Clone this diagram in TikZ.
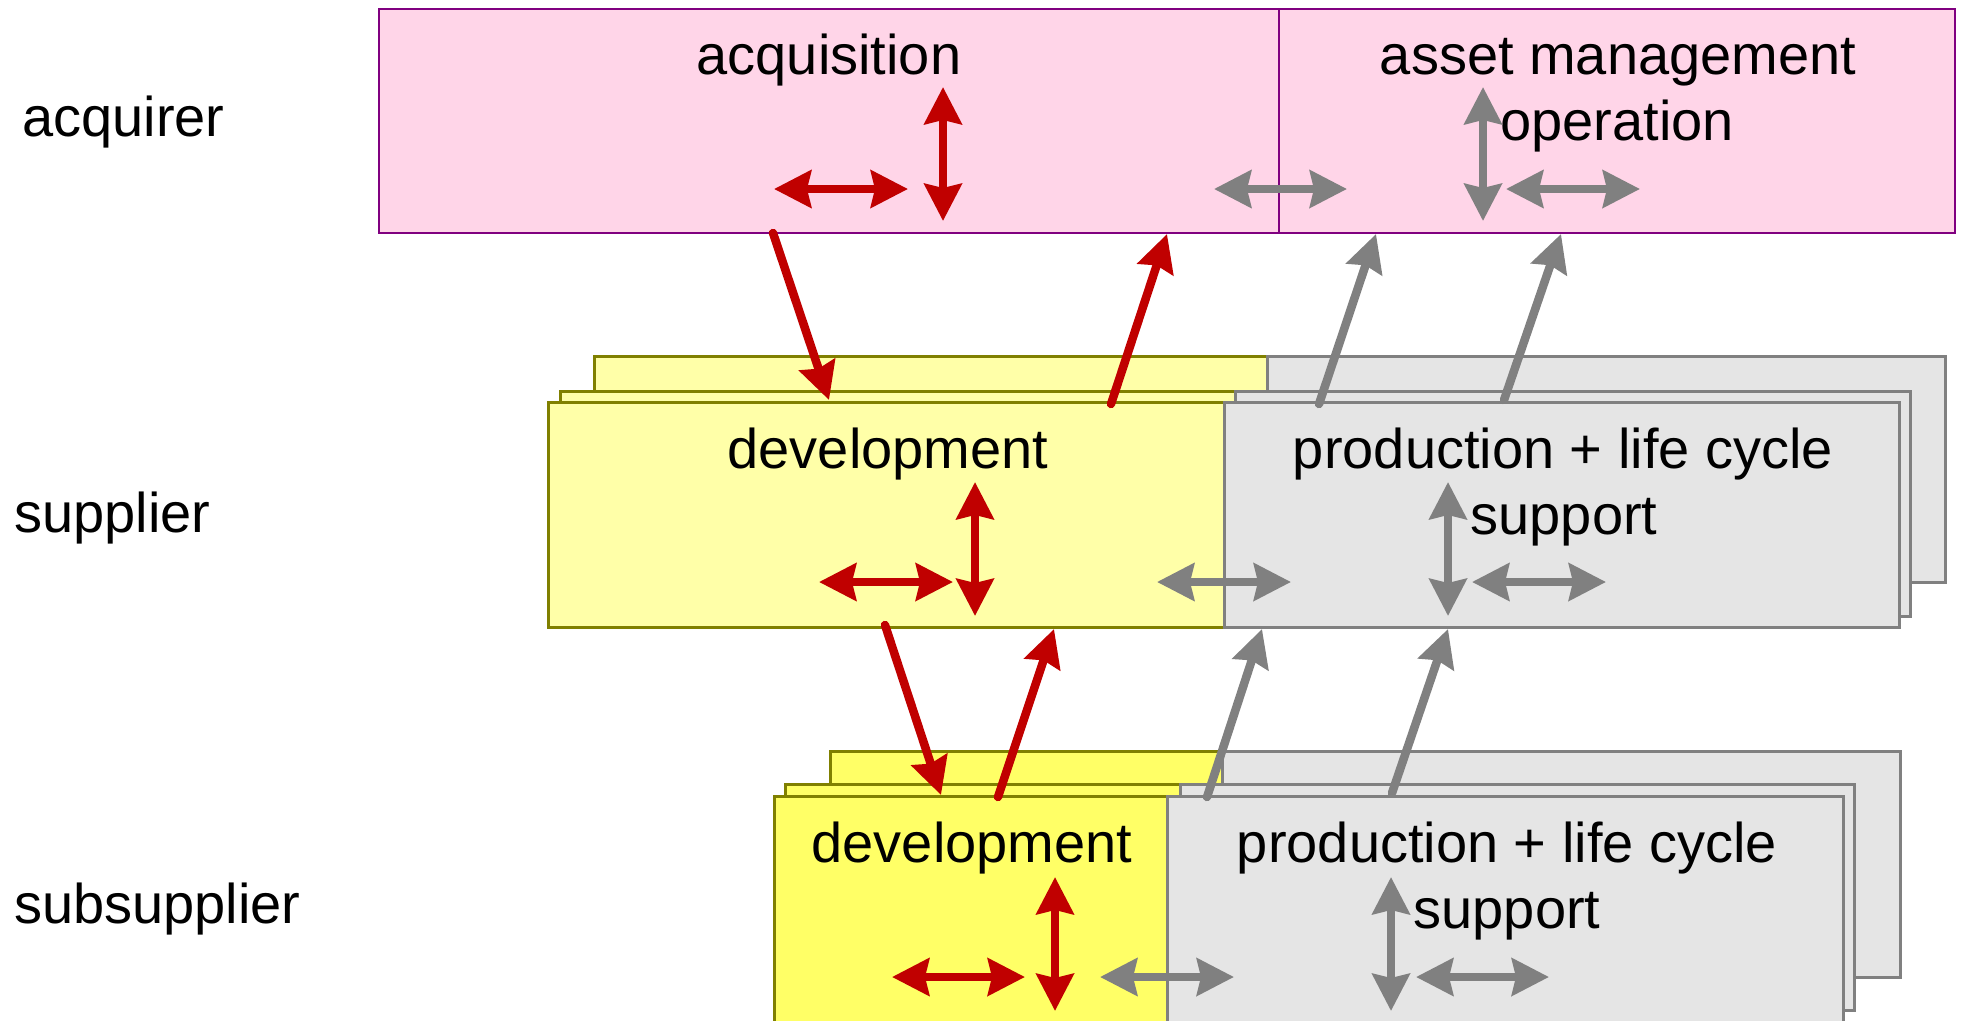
\documentclass[tikz,border=0pt]{standalone}
\usepackage{fontspec}
\setmainfont{Liberation Sans}
\usetikzlibrary{arrows.meta}
\definecolor{pinkfill}{HTML}{FFD5E8}
\definecolor{purpleline}{HTML}{800080}
\definecolor{paleyellow}{HTML}{FFFFA8}
\definecolor{brightyellow}{HTML}{FFFF66}
\definecolor{oliveline}{HTML}{808000}
\definecolor{greyfill}{HTML}{E5E5E5}
\definecolor{greyline}{HTML}{808080}
\definecolor{redarrow}{HTML}{C00000}
\tikzset{
  tip/.tip={Stealth[length=37pt,width=37pt,inset=4pt]},
  acqbox/.style={draw=purpleline,fill=pinkfill,line width=2.5pt},
  supbox/.style={draw=oliveline,fill=paleyellow,line width=3pt},
  subbox/.style={draw=oliveline,fill=brightyellow,line width=3pt},
  prodbox/.style={draw=greyline,fill=greyfill,line width=3pt},
  redlink/.style={draw=redarrow,line width=8.5pt,line cap=round,-tip},
  greylink/.style={draw=greyline,line width=8.5pt,line cap=round,-tip},
  redboth/.style={draw=redarrow,line width=8.5pt,tip-tip},
  greyboth/.style={draw=greyline,line width=8.5pt,tip-tip},
  txt/.style={inner sep=0pt,anchor=base,font=\fontsize{56}{66}\selectfont},
  lbl/.style={inner sep=0pt,anchor=base west,font=\fontsize{56}{66}\selectfont},
}
\begin{document}
\begin{tikzpicture}[x=1pt,y=-1pt]
\clip (0,0) rectangle (1961,1020);
\fill[white] (0,0) rectangle (1961,1020);

% left labels
\node[lbl] (lacq) at (22,136) {acquirer};
\node[lbl] (lsup) at (14,532) {supplier};
\node[lbl] (lsub) at (14,923) {subsupplier};

% acquirer boxes
\path[acqbox] (379,9) rectangle (1279,233);
\path[acqbox] (1279,9) rectangle (1955,233);

% supplier stacks (back, middle, front)
\path[supbox] (594,356) rectangle (1267,582);
\path[prodbox] (1267,356) rectangle (1945,582);
\path[supbox] (560,391) rectangle (1235,616);
\path[prodbox] (1235,391) rectangle (1910,616);
\path[supbox] (548,402) rectangle (1224,627);
\path[prodbox] (1224,402) rectangle (1899,627);

% subsupplier stacks
\path[subbox] (830,751) rectangle (1222,977);
\path[prodbox] (1222,751) rectangle (1900,977);
\path[subbox] (785,784) rectangle (1180,1010);
\path[prodbox] (1180,784) rectangle (1854,1010);
\path[subbox] (774,796) rectangle (1167,1030);
\path[prodbox] (1167,796) rectangle (1843,1030);

% texts
\node[txt] (tacq) at (829,74) {acquisition};
\node[txt] (tam) at (1618,74) {asset management};
\node[txt] (top) at (1617,140) {operation};
\node[txt] (tdev1) at (888,468) {development};
\node[txt] (tprod1) at (1563,468) {production + life cycle};
\node[txt] (tsup1) at (1564,534) {support};
\node[txt] (tdev2) at (972,862) {development};
\node[txt] (tprod2) at (1507,862) {production + life cycle};
\node[txt] (tsup2) at (1507,928) {support};

% arrow end coordinates
\coordinate (a1) at (774,189); \coordinate (a2) at (908,189);
\coordinate (a3) at (943,87);  \coordinate (a4) at (943,221);
\coordinate (a5) at (1214,189); \coordinate (a6) at (1347,189);
\coordinate (a7) at (1483,87);  \coordinate (a8) at (1483,221);
\coordinate (a9) at (1506,189); \coordinate (a10) at (1640,189);

\coordinate (b1) at (819,582); \coordinate (b2) at (953,582);
\coordinate (b3) at (975,482); \coordinate (b4) at (975,616);
\coordinate (b5) at (1157,582); \coordinate (b6) at (1291,582);
\coordinate (b7) at (1448,482); \coordinate (b8) at (1448,616);
\coordinate (b9) at (1472,582); \coordinate (b10) at (1606,582);

\coordinate (c1) at (892,977); \coordinate (c2) at (1025,977);
\coordinate (c3) at (1055,877); \coordinate (c4) at (1055,1011);
\coordinate (c5) at (1100,977); \coordinate (c6) at (1234,977);
\coordinate (c7) at (1391,877); \coordinate (c8) at (1391,1011);
\coordinate (c9) at (1416,977); \coordinate (c10) at (1549,977);

% in-box double arrows
\draw[redboth] (a1) -- (a2);
\draw[redboth] (a3) -- (a4);
\draw[greyboth] (a5) -- (a6);
\draw[greyboth] (a7) -- (a8);
\draw[greyboth] (a9) -- (a10);

\draw[redboth] (b1) -- (b2);
\draw[redboth] (b3) -- (b4);
\draw[greyboth] (b5) -- (b6);
\draw[greyboth] (b7) -- (b8);
\draw[greyboth] (b9) -- (b10);

\draw[redboth] (c1) -- (c2);
\draw[redboth] (c3) -- (c4);
\draw[greyboth] (c5) -- (c6);
\draw[greyboth] (c7) -- (c8);
\draw[greyboth] (c9) -- (c10);

% links between levels
\coordinate (d1s) at (773,233); \coordinate (d1e) at (829,400);
\coordinate (d2s) at (1111,404); \coordinate (d2e) at (1167,234);
\coordinate (d3s) at (1319,404); \coordinate (d3e) at (1376,234);
\coordinate (d4s) at (1504,400); \coordinate (d4e) at (1561,234);
\coordinate (e1s) at (885,625); \coordinate (e1e) at (941,795);
\coordinate (e2s) at (998,797); \coordinate (e2e) at (1054,629);
\coordinate (e3s) at (1207,797); \coordinate (e3e) at (1262,629);
\coordinate (e4s) at (1392,793); \coordinate (e4e) at (1448,629);

\draw[redlink] (d1s) -- (d1e);
\draw[redlink] (d2s) -- (d2e);
\draw[greylink] (d3s) -- (d3e);
\draw[greylink] (d4s) -- (d4e);
\draw[redlink] (e1s) -- (e1e);
\draw[redlink] (e2s) -- (e2e);
\draw[greylink] (e3s) -- (e3e);
\draw[greylink] (e4s) -- (e4e);
\end{tikzpicture}
\end{document}
